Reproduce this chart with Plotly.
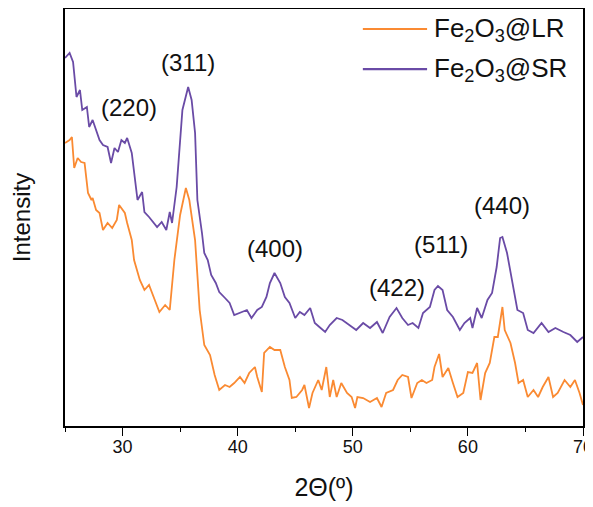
import plotly.graph_objects as go

# 2-theta positions (degrees) and intensities (a.u.)
sr_2theta = [25.0, 25.4, 25.7, 26.0, 26.3, 26.5, 26.9, 27.1, 27.4, 27.7, 28.0, 28.3, 28.7, 29.0, 29.3,
             29.6, 29.9, 30.2, 30.4, 30.8, 31.0, 31.3, 31.7, 31.9, 32.3, 33.0, 33.4, 33.8, 34.1, 34.3,
             34.7, 35.0, 35.2, 35.7, 36.0, 36.3, 36.5, 36.9, 37.1, 37.4, 37.7, 38.1, 38.4, 38.9, 39.3,
             39.7, 40.2, 40.8, 41.2, 41.7, 42.1, 42.5, 42.8, 43.2, 43.7, 44.1, 44.5, 45.0, 45.4, 45.8,
             46.3, 46.7, 47.1, 47.6, 48.0, 48.6, 49.1, 49.7, 50.3, 50.9, 51.5, 52.1, 52.6, 53.2, 53.8,
             54.3, 54.8, 55.2, 55.7, 56.1, 56.7, 57.1, 57.4, 57.8, 58.2, 58.7, 59.3, 59.7, 60.2, 60.4,
             60.8, 61.2, 61.7, 62.1, 62.5, 62.8, 63.0, 63.4, 63.8, 64.3, 64.8, 65.2, 65.7, 66.4, 67.0,
             67.6, 68.3, 68.9, 69.5, 70.0]
sr_intensity = [368, 373, 364, 329, 336, 316, 319, 299, 306, 296, 286, 281, 279, 263, 278,
                274, 286, 283, 288, 273, 253, 226, 234, 214, 209, 199, 204, 196, 214, 203,
                239, 283, 316, 339, 326, 293, 226, 193, 173, 166, 151, 143, 134, 128, 123,
                111, 113, 116, 108, 116, 119, 129, 143, 153, 143, 129, 123, 108, 114, 111,
                118, 103, 99, 94, 101, 108, 106, 101, 96, 103, 98, 104, 93, 109, 118,
                108, 101, 103, 98, 113, 119, 136, 140, 136, 116, 109, 96, 103, 108, 98,
                118, 108, 126, 133, 159, 188, 189, 173, 149, 116, 113, 96, 93, 103, 94,
                98, 94, 91, 84, 89]

lr_2theta = [25.0, 25.4, 25.6, 25.8, 26.1, 26.4, 26.7, 27.0, 27.3, 27.4, 27.7, 28.0, 28.3, 28.7, 29.1,
             29.5, 29.7, 30.2, 30.4, 30.8, 31.0, 31.5, 31.9, 32.3, 32.8, 33.2, 33.7, 34.1, 34.5, 35.0,
             35.5, 35.8, 36.3, 36.7, 37.1, 37.6, 38.0, 38.4, 38.9, 39.3, 39.7, 40.2, 40.6, 41.0, 41.5,
             41.7, 42.1, 42.3, 42.8, 43.2, 43.7, 44.1, 44.5, 44.7, 45.1, 45.6, 45.8, 46.2, 46.5, 47.0,
             47.3, 47.7, 48.0, 48.3, 48.6, 49.0, 49.5, 49.9, 50.2, 50.4, 50.9, 51.5, 52.1, 52.5, 52.9,
             53.5, 53.9, 54.3, 54.8, 55.1, 55.6, 56.0, 56.4, 56.9, 57.1, 57.5, 57.8, 58.3, 58.7, 59.1,
             59.6, 60.0, 60.4, 60.8, 61.1, 61.5, 61.9, 62.3, 62.6, 63.0, 63.2, 63.7, 64.1, 64.4, 64.8,
             65.2, 65.7, 66.1, 66.5, 67.0, 67.4, 67.8, 68.4, 68.9, 69.3, 69.7, 70.0]
lr_intensity = [283, 286, 289, 258, 268, 264, 263, 233, 226, 228, 216, 213, 196, 203, 198,
                206, 221, 213, 203, 186, 166, 146, 136, 141, 126, 114, 121, 116, 166, 211,
                238, 226, 186, 116, 81, 71, 51, 36, 41, 39, 43, 49, 43, 53, 59,
                49, 34, 73, 79, 76, 76, 59, 46, 28, 29, 36, 41, 18, 33, 46,
                36, 59, 29, 46, 29, 43, 33, 29, 18, 29, 28, 24, 28, 19, 33,
                36, 46, 51, 49, 28, 43, 46, 43, 46, 59, 72, 49, 58, 43, 29,
                33, 54, 53, 63, 26, 53, 63, 89, 89, 119, 96, 83, 63, 43, 46,
                29, 36, 29, 39, 49, 29, 33, 46, 39, 46, 33, 21]

peak_labels = ["(220)", "(311)", "(400)", "(422)", "(511)", "(440)"]
peak_label_x = [30.6, 35.65, 43.2, 53.8, 57.7, 63.0]
peak_label_y = [319, 364, 178, 139, 182, 221]

series_names = ["Fe<sub>2</sub>O<sub>3</sub>@LR", "Fe<sub>2</sub>O<sub>3</sub>@SR"]
series_colors = ["#FA8A32", "#6A4BA6"]

FONT = "Liberation Sans, Arial, sans-serif"

fig = go.Figure()
fig.add_trace(go.Scatter(x=lr_2theta, y=lr_intensity, mode="lines", name=series_names[0],
                         line=dict(color=series_colors[0], width=1.8), showlegend=False))
fig.add_trace(go.Scatter(x=sr_2theta, y=sr_intensity, mode="lines", name=series_names[1],
                         line=dict(color=series_colors[1], width=1.8), showlegend=False))

for txt, px, py in zip(peak_labels, peak_label_x, peak_label_y):
    fig.add_annotation(x=px, y=py, text=txt, showarrow=False,
                       font=dict(family=FONT, size=24, color="#111111"))

# legend drawn as line samples + labels (paper coordinates)
legend_rows_y = [0.952, 0.856]
for name, color, ly in zip(series_names, series_colors, legend_rows_y):
    fig.add_shape(type="line", xref="paper", yref="paper", x0=0.575, x1=0.699, y0=ly, y1=ly,
                  line=dict(color=color, width=2.2))
    fig.add_annotation(xref="paper", yref="paper", x=0.708, y=ly, xanchor="left", yanchor="middle",
                       text=name, showarrow=False, font=dict(family=FONT, size=26, color="#111111"))

fig.update_layout(
    width=585, height=499,
    margin=dict(l=57, r=10, t=1, b=81, autoexpand=False),
    paper_bgcolor="white", plot_bgcolor="white",
    font=dict(family=FONT, color="#111111"),
    showlegend=False,
    xaxis=dict(range=[25, 70], showline=True, linecolor="black", linewidth=1.5, mirror=True,
               ticks="outside", ticklen=8, tickwidth=1.3, tickcolor="black", dtick=10, tick0=0,
               minor=dict(dtick=5, ticklen=4, tickwidth=1.3, tickcolor="black", ticks="outside"),
               showgrid=False, zeroline=False, automargin=False, ticklabeloverflow="allow",
               ticklabelstandoff=-4,
               tickfont=dict(family=FONT, size=18),
               title=dict(text="2Θ(º)", font=dict(family=FONT, size=25), standoff=22)),
    yaxis=dict(range=[0, 417], showline=True, linecolor="black", linewidth=1.5, mirror=True,
               showticklabels=False, ticks="", showgrid=False, zeroline=False, automargin=False,
               title=dict(text="Intensity", font=dict(family=FONT, size=24), standoff=26)),
)

fig.write_html("out.html")
